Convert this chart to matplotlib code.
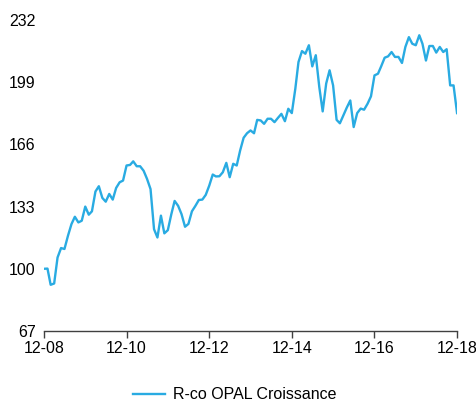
import numpy as np
import pandas as pd
import matplotlib
matplotlib.use("Agg")
import matplotlib.pyplot as plt

# Données (valeur mensuelle, base 100 en décembre 2008)
valeurs = [
    100, 100.1, 91.5, 92.2, 106, 111, 110.5, 117.5, 123.7, 127.6, 124.6, 125.5,
    133, 128.7, 130.5, 141, 143.8, 137.6, 135.6, 139.7, 136.7, 142.9, 145.9, 146.8,
    154.8, 155.1,
    157, 154.4, 154.4, 152, 147.7, 142.3, 121, 116.6, 128.2, 118.8, 120.5, 129,
    136, 133.4, 129, 122.3, 123.8, 130.5, 133.4, 136.5, 136.7, 139.2, 144.1,
    150, 149, 149.1, 151.2, 156.2, 148.6, 155.7, 154.8, 162.7, 169.5, 171.9, 173.4,
    171.9, 179, 178.7, 176.9, 179.6, 179.6, 177.8, 180.1, 182.2, 178.3, 184.9,
    182.6, 195.5,
    209.7, 215.5, 214.1, 218.6, 207.4, 213.3, 196.4, 183.5, 198.3, 205.3, 197.3,
    179, 177.2, 181.4, 185.5, 189.3, 175.2, 182.6, 185, 184.4, 187.6, 191.5,
    202.6, 203.5,
    207.4, 212, 212.7, 215, 212.4, 212.4, 209.2, 217.7, 222.9, 219.4, 218.6, 223.9,
    219.4, 210.5, 218.2, 218.2, 214.7, 217.7, 215, 216.5, 197.3, 197.3, 182.6,
]
dates = pd.date_range("2008-12-31", periods=len(valeurs), freq="ME")
y_ticks = [67, 100, 133, 166, 199, 232]
nom_serie = "R-co OPAL Croissance"

plt.rcParams["font.family"] = ["Liberation Sans", "DejaVu Sans"]

fig = plt.figure(figsize=(4.77, 4.03), dpi=100)
ax = fig.add_axes([0.0922, 0.1787, 0.866, 0.7717])

ax.plot(dates, valeurs, color="#29abe2", lw=1.7, label=nom_serie)

ax.set_xlim(dates[0], dates[-1])
ax.set_ylim(67, 232)
ax.set_yticks(y_ticks)
# une graduation tous les deux ans
tick_dates = dates[::24]
ax.set_xticks(tick_dates)
ax.set_xticklabels([d.strftime("%m-%y") for d in tick_dates])

for s in ["top", "right", "left"]:
    ax.spines[s].set_visible(False)
ax.spines["bottom"].set_color("#404040")
ax.spines["bottom"].set_linewidth(1.0)
ax.tick_params(axis="y", length=0, pad=6, labelsize=11.5, colors="black")
ax.tick_params(axis="x", length=5, width=1, color="#404040", labelsize=11.5, pad=2)

fig.legend(loc="center", bbox_to_anchor=(0.493, 0.02), frameon=False,
           fontsize=11.5, handlelength=2.0, handletextpad=0.5)

fig.savefig("out.png", dpi=100)
